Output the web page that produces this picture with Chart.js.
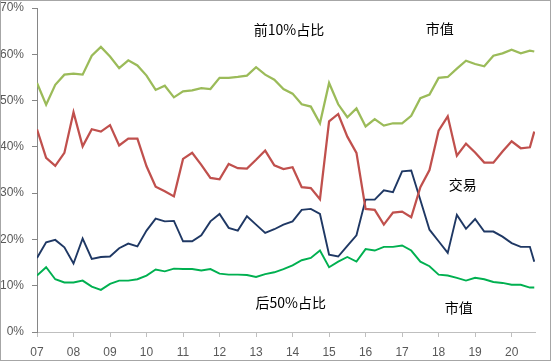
<!DOCTYPE html>
<html>
<head>
<meta charset="utf-8">
<script src="https://cdn.jsdelivr.net/npm/chart.js@4"></script>
<style>
html, body { margin: 0; padding: 0; background: #fff; }
#wrap { position: absolute; left: 0; top: 0; width: 549px; height: 359px; border: 1px solid #a6a6a6; }
</style>
</head>
<body>
<div id="wrap"><canvas id="chart" width="549" height="359"></canvas></div>
<script>
// quarterly observations 2007Q1 .. 2020Q3, plus a final partial reading
const periods = [];
for (let y = 2007; y <= 2020; y++) {
    for (let q = 0; q < 4; q++) {
        if (y < 2020 || q < 3) periods.push(y + q / 4);
    }
}
periods.push(2020.62);

const yearTicks = [2007, 2008, 2009, 2010, 2011, 2012, 2013, 2014, 2015, 2016, 2017, 2018, 2019, 2020];
const yearLabels = ['07', '08', '09', '10', '11', '12', '13', '14', '15', '16', '17', '18', '19', '20'];

// 前10%占比 - 市值
const top10Cap = [53.8, 49.1, 53.4, 55.6, 55.8, 55.6, 59.7, 61.6, 59.5, 57.0,
    58.7, 57.6, 55.4, 52.3, 53.2, 50.7, 52.0, 52.2, 52.7, 52.5,
    54.9, 54.9, 55.1, 55.4, 57.2, 55.6, 54.5, 52.5, 51.5, 49.2,
    48.7, 45.1, 53.8, 49.2, 46.4, 48.3, 44.4, 46.0, 44.6, 45.1,
    45.1, 46.7, 50.5, 51.3, 54.9, 55.1, 56.9, 58.6, 57.9, 57.4,
    59.7, 60.2, 61.0, 60.2, 60.8, 60.6];
// 前10%占比 - 交易
const top10Trade = [43.8, 37.6, 35.9, 38.7, 47.5, 40.1, 43.8, 43.3, 44.7, 40.3,
    41.8, 41.8, 35.8, 31.4, 30.4, 29.3, 37.4, 38.7, 36.1, 33.3,
    33.0, 36.3, 35.4, 35.3, 37.2, 39.2, 36.0, 35.2, 35.6, 31.3,
    31.1, 28.7, 45.5, 47.1, 42.2, 38.7, 26.6, 26.4, 23.2, 25.8,
    26.0, 24.8, 31.3, 35.0, 43.5, 46.6, 38.1, 40.7, 38.8, 36.6,
    36.6, 39.0, 41.2, 39.7, 39.9, 43.3];
// 后50%占比 - 交易
const bottom50Trade = [16.0, 19.4, 19.9, 18.3, 14.8, 20.2, 15.8, 16.2, 16.3, 18.1,
    19.1, 18.5, 21.9, 24.5, 23.9, 24.0, 19.6, 19.6, 20.9, 23.9,
    25.5, 22.5, 21.9, 25.0, 23.2, 21.4, 22.2, 23.2, 23.9, 26.4,
    26.6, 25.5, 16.7, 16.3, 18.6, 20.9, 28.6, 28.6, 30.6, 30.2,
    34.7, 34.9, 28.5, 22.1, 19.6, 17.1, 25.3, 22.3, 24.4, 21.7,
    21.7, 20.6, 19.2, 18.4, 18.4, 15.2];
// 后50%占比 - 市值
const bottom50Cap = [12.2, 14.0, 11.4, 10.7, 10.7, 11.1, 9.8, 9.1, 10.4, 11.1,
    11.1, 11.4, 12.2, 13.5, 13.1, 13.7, 13.6, 13.6, 13.3, 13.6,
    12.6, 12.4, 12.4, 12.3, 11.9, 12.5, 12.9, 13.6, 14.4, 15.5,
    16.0, 17.6, 14.0, 15.2, 16.2, 15.2, 17.9, 17.6, 18.4, 18.4,
    18.7, 17.6, 15.2, 14.2, 12.4, 12.2, 11.7, 11.1, 11.7, 11.4,
    10.8, 10.6, 10.2, 10.2, 9.6, 9.6];

// text labels placed in data coordinates
const noteTexts = ['前10%占比', '市值', '交易', '后50%占比', '市值'];
const noteX = [2013.9, 2018.03, 2018.66, 2013.95, 2018.55];
const noteY = [65.4, 65.5, 31.8, 6.3, 5.2];

let toPoints = arr => arr.map((v, i) => ({ x: periods[i], y: v }));

let notesPlugin = {
    id: 'notes',
    afterDatasetsDraw(chart) {
        let ctx = chart.ctx;
        ctx.save();
        ctx.font = '14px "Noto Sans CJK SC"';
        ctx.fillStyle = '#000';
        ctx.textAlign = 'center';
        ctx.textBaseline = 'middle';
        for (let i = 0; i < noteTexts.length; i++) {
            ctx.fillText(noteTexts[i],
                chart.scales.x.getPixelForValue(noteX[i]),
                chart.scales.y.getPixelForValue(noteY[i]));
        }
        ctx.restore();
    }
};

let lineSet = (label, arr, color, width) => ({
    label: label,
    data: toPoints(arr),
    borderColor: color,
    backgroundColor: color,
    borderWidth: width,
    pointRadius: 0,
    tension: 0,
    fill: false
});

let chart = new Chart('chart', {
    type: 'line',
    data: {
        datasets: [
            lineSet('前10%市值', top10Cap, '#9BBB59', 2.25),
            lineSet('前10%交易', top10Trade, '#C0504D', 2.25),
            lineSet('后50%交易', bottom50Trade, '#1F3864', 1.9),
            lineSet('后50%市值', bottom50Cap, '#00B050', 1.9)
        ]
    },
    options: {
        responsive: false,
        animation: false,
        layout: { padding: { top: 0, right: 15, left: 0, bottom: 0 } },
        plugins: {
            legend: { display: false },
            tooltip: { enabled: false }
        },
        scales: {
            x: {
                type: 'linear',
                min: 2007,
                max: 2020.64,
                afterBuildTicks: s => { s.ticks = yearTicks.map(v => ({ value: v })); },
                afterFit: s => { s.height = 28; s.paddingLeft = 0; s.paddingRight = 0; },
                grid: { drawOnChartArea: false, tickLength: 5, color: '#BFBFBF' },
                border: { color: '#BFBFBF', width: 1 },
                ticks: {
                    autoSkip: false,
                    maxRotation: 0,
                    padding: 8,
                    color: '#595959',
                    font: { family: 'Liberation Sans', size: 12 },
                    callback: v => yearLabels[yearTicks.indexOf(v)]
                }
            },
            y: {
                min: 0,
                max: 70,
                afterFit: s => { s.width = 36; s.paddingTop = 7; s.paddingBottom = 0; },
                grid: { drawOnChartArea: false, tickLength: 5, color: '#868686' },
                border: { color: '#868686', width: 1 },
                ticks: {
                    stepSize: 10,
                    padding: 8,
                    color: '#595959',
                    font: { family: 'Liberation Sans', size: 12 },
                    callback: v => v + '%'
                }
            }
        }
    },
    plugins: [notesPlugin]
});
</script>
</body>
</html>
